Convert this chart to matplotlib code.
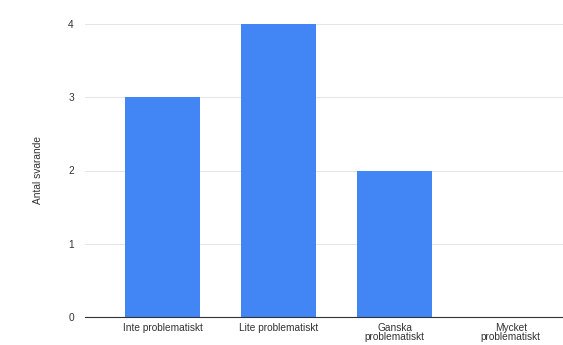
import matplotlib
matplotlib.use("Agg")
import matplotlib.pyplot as plt

categories = ["Inte problematiskt", "Lite problematiskt", "Ganska\nproblematiskt", "Mycket\nproblematiskt"]
values = [3, 4, 2, 0]
yticks = [0, 1, 2, 3, 4]
ylabel = "Antal svarande"

plt.rcParams['font.family'] = ['Liberation Sans', 'DejaVu Sans']

fig = plt.figure(figsize=(5.63, 3.45), dpi=100)
ax = fig.add_axes([85/563, 28/345, 478/563, 293/345])

x = list(range(len(categories)))
ax.bar(x, values, width=0.65, color="#4285F4", zorder=3)
ax.set_xlim(-0.67, 3.45)
ax.set_ylim(0, 4)
ax.set_yticks(yticks)
ax.set_yticklabels([str(v) for v in yticks])
ax.set_xticks(x)
ax.set_xticklabels(categories, linespacing=0.85)
ax.grid(axis='y', color='#e6e6e6', linewidth=0.8, zorder=0)
ax.tick_params(axis='both', length=0, labelsize=7.3, colors='#333333')
ax.tick_params(axis='y', pad=8)
ax.tick_params(axis='x', pad=4.5)
for s in ['top', 'right', 'left']:
    ax.spines[s].set_visible(False)
ax.spines['bottom'].set_color('#333333')
ax.spines['bottom'].set_linewidth(0.8)
ax.spines['bottom'].set_zorder(4)
ax.set_ylabel(ylabel, fontsize=7.3, color='#333333', labelpad=18)

fig.savefig("out.png", dpi=100, facecolor='white')
